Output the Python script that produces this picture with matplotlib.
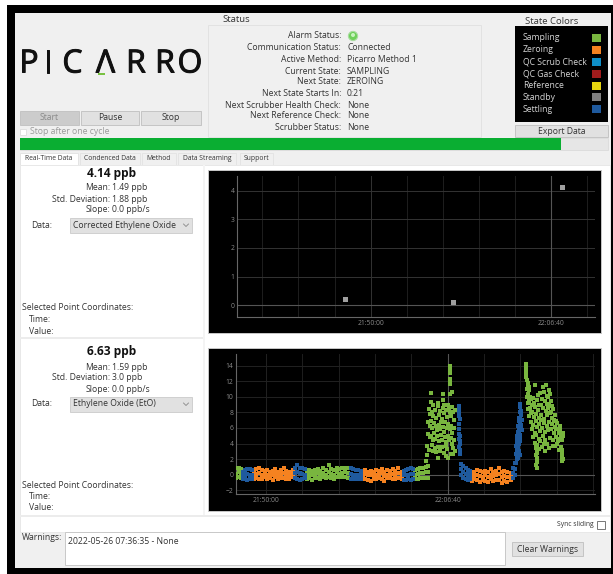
import numpy as np
import matplotlib
matplotlib.use('Agg')
import matplotlib.pyplot as plt
import matplotlib.patheffects as pe
from matplotlib.patches import Rectangle, Circle

plt.rcParams['font.family'] = ['Open Sans', 'DejaVu Sans']

W, H = 613, 574

# --- chart data, time in seconds after 21:50:00 ---
x_ticks = [0, 1000]
x_tick_labels = ['21:50:00', '22:06:40']
x_minor = [-600, -400, -200, 200, 400, 600, 800, 1200, 1400, 1600, 1800]

# top chart: corrected EtO, standby points
top_t = [-142, 458, 1060]
top_v = [0.22, 0.12, 4.14]
top_yticks = [0, 1, 2, 3, 4]

# bottom chart: EtO, flat part, three readings per time
zero_t = [-68, -53, -38, -23, -8, 7, 22, 37, 52, 67, 82, 97, 112, 127, 148,
          532, 547, 562, 577, 592, 607, 622, 637, 652, 667, 682, 697, 712, 727, 750,
          1132, 1147, 1162, 1177, 1192, 1207, 1222, 1237, 1252, 1267, 1282, 1297, 1312, 1327, 1346]
zero_v = [0.5, 0.0, -0.5, 0.7, 0.1, -0.4, 0.9, 0.2, -0.6, 0.6, -0.1, -0.5, 0.5, 0.1, -0.3,
          0.6, 0.0, -0.6, 0.4, -0.1, -0.4, 0.5, 0.0, -0.7, 0.7, 0.2, -0.3, 0.4, -0.1, -0.5,
          0.6, 0.1, -0.4, 0.8, 0.2, -0.4, 0.5, -0.1, -0.6, 0.4, 0.0, -0.5, 0.6, 0.1, -0.3,
          0.5, -0.1, -0.6, 0.6, 0.1, -0.5, 0.4, 0.0, -0.7, 0.5, -0.1, -0.8, 0.4, -0.2, -0.6,
          0.6, 0.0, -0.6, 0.5, 0.1, -0.4, 0.7, 0.2, -0.5, 0.4, -0.2, -0.8, 0.6, 0.0, -0.4,
          0.5, 0.0, -0.4, 0.7, 0.1, -0.6, 0.5, -0.1, -0.5, 0.8, 0.2, -0.4, 0.4, -0.1, -0.5,
          0.2, -0.3, -0.8, 0.4, -0.1, -0.6, 0.6, 0.0, -0.7, 0.5, -0.2, -0.9, 0.3, -0.3, -0.7,
          0.5, -0.1, -0.8, 0.4, -0.3, -0.9, 0.7, 0.0, -0.6, 0.3, -0.2, -0.8, 0.5, -0.1, -0.7,
          0.8, 0.1, -0.7, 0.3, -0.3, -1.0, 0.5, -0.2, -0.8, 0.3, -0.3, -0.9, 0.2, -0.2, -0.7]

sample_t = [-165, -150, -138,
            224, 239, 254, 269, 284, 299, 314, 329, 344, 359, 374, 389, 404, 419, 434, 452,
            819, 834, 849, 864, 879, 893]
sample_v = [0.8, 0.1, -0.4, 0.9, 0.3, -0.3, 0.7, 0.0, -0.4,
            0.5, 0.0, -0.5, 0.6, 0.1, -0.4, 0.5, -0.1, -0.7, 0.6, 0.1, -0.4, 0.7, 0.2, -0.4,
            0.5, -0.1, -0.5, 0.8, 0.2, -0.3, 0.6, 0.0, -0.4, 1.2, 0.3, -0.3, 0.7, 0.1, -0.4,
            0.6, 0.0, -0.5, 0.9, 0.3, -0.3, 0.7, 0.1, -0.3, 0.8, 0.2, -0.3, 0.9, 0.3, -0.3,
            0.8, 0.2, -0.4,
            0.6, 0.0, -0.5, 0.7, 0.1, -0.5, 0.8, 0.2, -0.4, 0.9, 0.2, -0.4, 1.0, 0.3, -0.4, 1.1, 0.4, -0.4]

settle_t = [-128, -115, -102, -89, -76,
            158, 172, 186, 200, 214,
            466, 480, 494, 508, 522,
            758, 771, 784, 797, 810,
            1072, 1085, 1098, 1111, 1124,
            1357, 1368]
settle_v = [0.4, -0.2, -0.6, 0.6, 0.0, -0.6, 0.7, 0.1, -0.7, 0.7, 0.0, -0.6, 0.6, -0.1, -0.6,
            0.9, 0.2, -0.4, 1.2, 0.4, -0.5, 0.9, 0.2, -0.7, 0.8, 0.1, -0.6, 0.7, 0.0, -0.4,
            0.8, 0.1, -0.5, 0.7, 0.0, -0.6, 0.6, 0.0, -0.6, 0.6, -0.1, -0.6, 0.5, -0.1, -0.5,
            0.5, -0.1, -0.7, 0.6, 0.0, -0.7, 0.7, 0.0, -0.6, 0.8, 0.1, -0.7, 0.7, 0.1, -0.5,
            1.4, 0.7, 0.0, 1.1, 0.4, -0.4, 0.8, 0.1, -0.6, 0.6, -0.1, -0.7, 0.5, -0.1, -0.6,
            0.8, 0.2, -0.4, 1.5, 0.7, 0.0]

# bottom chart: the two noisy sampling runs
run1_t = [1013, 1013, 1014, 1012, 1014, 1013, 1012, 1022, 906, 976, 906, 917, 948, 976, 980, 1003, 1022, 1040,
          898, 904, 912, 920, 930, 938, 944, 952, 960, 968, 974, 982, 990, 998, 1006, 1014, 1020, 1028, 1034,
          894, 902, 908, 916, 926, 934, 940, 950, 958, 964, 972, 978, 986, 994, 1002, 1010, 1018, 1026, 1032,
          890, 900, 910, 918, 924, 932, 942, 954, 962, 970, 984, 992, 1000, 1008, 1016, 1024, 1036,
          888, 898, 914, 928, 936, 946, 956, 966, 980, 988, 996, 1020, 1030, 1042, 884, 880, 918, 944, 990, 1004, 1030]
run1_v = [14.0, 13.5, 13.1, 12.3, 11.9, 11.6, 10.4, 10.6, 10.5, 10.3, 9.3, 9.0, 9.2, 9.6, 8.9, 8.9, 8.7, 8.3,
          8.4, 7.8, 8.1, 7.5, 8.3, 7.3, 8.8, 7.6, 8.2, 7.1, 8.5, 7.9, 8.3, 7.4, 8.6, 8.0, 7.5, 8.1, 7.0,
          6.8, 6.3, 6.9, 6.0, 6.6, 6.2, 5.7, 6.4, 5.9, 6.7, 6.1, 5.5, 6.8, 6.0, 6.5, 5.8, 6.3, 5.4, 6.0,
          5.2, 4.8, 5.0, 4.4, 5.3, 4.6, 4.9, 4.3, 5.1, 4.5, 4.8, 4.2, 5.0, 4.4, 4.7, 3.9, 4.5,
          3.7, 3.2, 3.8, 3.4, 2.9, 3.6, 3.1, 3.5, 2.8, 3.7, 3.3, 2.7, 3.4, 3.0, 2.5, 1.8, 3.0, 2.1, 2.4, 2.2, 2.6]

run1_blue_t = [1062, 1064, 1063, 1062, 1065, 1063, 1061, 1064, 1066, 1062, 1066, 1068, 1064, 1070, 1066]
run1_blue_v = [8.8, 8.4, 8.0, 7.5, 7.2, 6.5, 5.9, 5.2, 4.9, 4.6, 4.3, 3.9, 3.5, 3.2, 2.6]

run2_blue_t = [1397, 1399, 1401, 1396, 1403, 1394, 1400, 1407, 1390, 1396, 1404, 1388, 1394, 1402, 1408, 1386, 1392, 1400,
               1384, 1390, 1398, 1382, 1388, 1396, 1380, 1386, 1394, 1378, 1388, 1382, 1392, 1376, 1386, 1396, 1380, 1388, 1376, 1384]
run2_blue_v = [9.1, 8.7, 8.2, 8.0, 7.7, 7.3, 7.2, 7.0, 6.9, 6.6, 6.4, 6.2, 6.0, 5.9, 5.7, 5.5, 5.3, 5.1,
               5.0, 4.8, 4.7, 4.5, 4.4, 4.3, 4.2, 4.0, 3.9, 3.7, 3.5, 3.2, 3.0, 2.7, 2.8, 2.5, 2.3, 2.2, 1.5, 2.0]

run2_t = [1430, 1430, 1431, 1430, 1432, 1436, 1440, 1444, 1438, 1446, 1448, 1442, 1452, 1436, 1450, 1444, 1456,
          1480, 1522, 1542, 1556, 1563, 1548, 1470, 1496, 1510, 1530, 1552, 1566, 1462, 1476, 1490, 1504, 1518, 1536, 1548,
          1560, 1572, 1440, 1454, 1466, 1482, 1498, 1512, 1526, 1540, 1554, 1568, 1580, 1590, 1448, 1460, 1474, 1488, 1502,
          1516, 1532, 1546, 1562, 1576, 1586, 1598, 1456, 1468, 1484, 1500, 1514, 1528, 1544, 1558, 1574, 1588, 1600, 1616,
          1464, 1478, 1492, 1508, 1520, 1534, 1550, 1570, 1584, 1596, 1610, 1622, 1472, 1486, 1504, 1524, 1538, 1564, 1578,
          1594, 1606, 1618, 1630, 1480, 1494, 1510, 1528, 1546, 1582, 1602, 1626, 1500, 1518, 1536, 1560, 1592, 1612, 1628,
          1630, 1628, 1630, 1632, 1630, 1628, 1488, 1492, 1490, 1488, 1492, 1490, 1494, 1488, 1490, 1486, 1634, 1620, 1636]
run2_v = [14.2, 13.8, 13.4, 13.1, 12.5, 12.2, 11.8, 11.4, 11.0, 10.8, 11.3, 10.4, 10.0, 9.9, 9.5, 9.2, 9.7,
          11.5, 11.3, 11.5, 10.8, 10.4, 10.1, 9.8, 10.2, 10.5, 10.6, 9.9, 9.5, 8.9, 9.2, 9.6, 9.0, 9.7, 9.4, 9.1,
          9.0, 8.8, 8.4, 8.6, 8.1, 8.7, 8.3, 8.9, 8.5, 8.2, 8.6, 8.0, 8.4, 7.6, 7.5, 7.9, 7.4, 7.8, 7.3,
          7.7, 7.2, 7.6, 7.9, 7.3, 7.0, 6.9, 6.8, 6.4, 6.9, 6.5, 7.0, 6.6, 6.3, 6.8, 6.5, 6.1, 6.6, 5.7,
          5.8, 5.4, 6.1, 5.6, 6.0, 5.5, 5.7, 5.9, 5.4, 5.8, 5.3, 5.0, 4.8, 5.1, 4.6, 4.9, 4.5, 4.7, 4.4,
          4.8, 4.3, 4.6, 4.4, 4.1, 3.8, 4.3, 4.0, 3.9, 3.7, 3.9, 3.6, 3.3, 3.5, 3.1, 3.4, 3.7, 3.2, 3.2,
          2.9, 2.6, 2.3, 2.0, 1.7, 3.0, 3.4, 3.1, 2.8, 2.5, 2.2, 1.9, 1.6, 1.3, 0.9, 3.6, 5.4, 6.3, 4.9]

bottom_yticks = [-2, 0, 2, 4, 6, 8, 10, 12, 14]

# --- interface texts ---
status_labels = ['Alarm Status:', 'Communication Status:', 'Active Method:', 'Current State:', 'Next State:',
                 'Next State Starts In:', 'Next Scrubber Health Check:', 'Next Reference Check:', 'Scrubber Status:']
status_values = ['', 'Connected', 'Picarro Method 1', 'SAMPLING', 'ZEROING', '0:21', 'None', 'None', 'None']
status_y = [36, 48, 59.5, 71, 82, 93.5, 105, 116, 127]

state_names = ['Sampling', 'Zeroing', 'QC Scrub Check', 'QC Gas Check', 'Reference', 'Standby', 'Settling']
state_colors = ['#79b63f', '#f58220', '#0f8fc8', '#a01c1c', '#e6d50f', '#808080', '#1f5a9e']
state_y = [38, 50, 62, 74, 86, 97, 109]

tab_names = ['Real-Time Data', 'Condenced Data', 'Method', 'Data Streaming', 'Support']
tab_x = [(20, 78), (80, 140), (142, 176), (178, 236), (240, 273)]

fig = plt.figure(figsize=(W / 100, H / 100), dpi=100, facecolor='white')
ui = fig.add_axes([0, 0, 1, 1])
ui.set_xlim(0, W)
ui.set_ylim(H, 0)
ui.axis('off')


def box(x0, y0, x1, y1, fc, ec='none', lw=0.7, z=1):
    ui.add_patch(Rectangle((x0, y0), x1 - x0, y1 - y0, fc=fc, ec=ec, lw=lw, zorder=z))


def label(x, y, s, ha='left', size=6.2, color='#333333', weight='normal'):
    ui.text(x, y, s, ha=ha, va='center', fontsize=size, color=color, fontweight=weight, zorder=5)


def button(x0, y0, x1, y1, s, fc='#e1e1e1', color='#333333', size=6.2):
    box(x0, y0, x1, y1, fc, '#c4c4c4', z=2)
    label((x0 + x1) / 2, (y0 + y1) / 2, s, ha='center', color=color, size=size)


# window and black frame
box(7, 5, 613, 574, 'black')
box(15, 13, 611, 568, '#f0f0f0', z=1)

# logo
logo_letters = ['P', 'I', 'C', '\u039b', 'R', 'R', 'O']
logo_x = [29, 48, 72.5, 105.5, 136, 165, 190]
for lx, ch in zip(logo_x, logo_letters):
    t = ui.text(lx, 64, ch, ha='center', va='center', fontsize=23, color='#111111', zorder=5)
    t.set_path_effects([pe.withStroke(linewidth=0.7, foreground='#111111')])
box(98, 73, 105, 75, '#79c142', z=6)

button(20, 111, 79, 125, 'Start', fc='#cccccc', color='#8a8a8a')
button(81, 111, 139, 125, 'Pause')
button(141, 111, 201, 125, 'Stop')
box(20, 129, 26, 135, 'white', '#e0e0e0', z=2)
label(30, 132, 'Stop after one cycle', color='#9a9a9a')

# status group
label(222, 20, 'Status', size=6.8)
box(208, 25, 481, 137, '#f0f0f0', '#e2e2e2', z=2)
for y, s, v in zip(status_y, status_labels, status_values):
    label(341, y, s, ha='right')
    label(347, y, v)
ui.add_patch(Circle((353, 36), 4.6, fc='#6fd05a', ec='#a9dca0', lw=0.8, zorder=5))
ui.add_patch(Circle((353, 35), 2, fc='#c8f2bf', ec='none', zorder=6))

# state colours
label(552, 21, 'State Colors', ha='center', size=6.8)
box(515, 26, 608, 122, 'black', z=2)
for y, s, c in zip(state_y, state_names, state_colors):
    label(523, y, s, color='#d5d5d5')
    box(592, y - 4, 601, y + 4, c, z=4)
button(515, 125, 608, 137, 'Export Data')

# progress bar
box(20, 138, 608, 150, '#e6e6e6', '#dddddd', z=2)
box(20, 138, 561, 150, '#0aae32', z=3)

# tabs
for (x0, x1), s in zip(tab_x, tab_names):
    active = s == tab_names[0]
    box(x0, 153, x1, 165, 'white' if active else '#f0f0f0', '#e4e4e4', z=2)
    label((x0 + x1) / 2, 159, s, ha='center', size=4.9)

# content area
box(20, 165, 610, 532, 'white', '#e8e8e8', z=2)
box(20, 337, 203, 339, '#ececec', z=3)
box(20, 515, 610, 517, '#ececec', z=3)
box(203, 165, 205, 515, '#f4f4f4', z=3)

left_rows = [(173, '4.14 ppb', '1.49 ppb', '1.88 ppb', '0.0 ppb/s', 'Corrected Ethylene Oxide', 308),
             (352, '6.63 ppb', '1.59 ppb', '3.0 ppb', '0.0 ppb/s', 'Ethylene Oxide (EtO)', 485)]
for y, big, mean, sd, slope, combo, sel in left_rows:
    label(112, y, big, ha='center', size=8.6, color='#111111', weight='bold')
    label(110, y + 15, 'Mean:', ha='right')
    label(110, y + 26, 'Std. Deviation:', ha='right')
    label(110, y + 37, 'Slope:', ha='right')
    label(112, y + 15, mean)
    label(112, y + 26, sd)
    label(112, y + 37, slope)
    label(31, y + 52, 'Data:')
    box(70, y + 45, 192, y + 60, '#e1e1e1', '#d0d0d0', z=3)
    label(73, y + 52, combo)
    ui.plot([183.5, 186, 188.5], [y + 51, y + 53.5, y + 51], color='#888888', lw=0.6, zorder=5)
    label(22, sel, 'Selected Point Coordinates:')
    label(29, sel + 11.5, 'Time:')
    label(29, sel + 23, 'Value:')

# bottom row
label(594, 525, 'Sync sliding', ha='right', size=4.9)
box(597, 521, 605, 529, 'white', '#777777', z=3)
label(22, 537, 'Warnings:')
box(65, 532, 505, 565, 'white', '#c8c8c8', z=3)
label(68, 541, '2022-05-26 07:36:35 - None')
button(512, 542, 583, 556, 'Clear Warnings')


def chart(px0, py0, px1, py1, xlim, ylim, yticks, grid_c):
    ax = fig.add_axes([px0 / W, 1 - py1 / H, (px1 - px0) / W, (py1 - py0) / H], facecolor='black')
    ax.set_yticks(yticks)
    ax.set_xticks(x_ticks)
    ax.set_xticklabels(x_tick_labels)
    ax.set_xticks(x_minor, minor=True)
    # limits after the ticks, otherwise the minor ticks widen them
    ax.set_xlim(*xlim)
    ax.set_ylim(*ylim)
    ax.tick_params(which='both', length=0, labelsize=4.9, colors='#8c8c8c', pad=2)
    ax.grid(axis='y', color=grid_c, lw=0.7)
    ax.grid(axis='x', which='minor', color='#1e1e1e', lw=0.7)
    ax.grid(axis='x', which='major', color=grid_c, lw=0.7)
    ax.set_axisbelow(True)
    for s in ['top', 'right']:
        ax.spines[s].set_visible(False)
    for s in ['left', 'bottom']:
        ax.spines[s].set_color('#666666')
        ax.spines[s].set_linewidth(0.8)
    ax.axhline(0, color='#555555', lw=0.8, zorder=1)
    ax.axvline(1000, color='#555555', lw=0.8, zorder=1)
    return ax


def dots(ax, t, v, c, ms=2.4):
    ax.plot(t, v, ls='none', marker='s', ms=ms, mew=0, color=c, zorder=3)


# black panels, the axes sit inside them
box(208, 170, 601, 333, 'black', '#c8c8c8', z=3)
box(208, 348, 601, 511, 'black', '#c8c8c8', z=3)

top = chart(237, 176, 595, 317, ((237 - 370.7) / 0.1806, (595 - 370.7) / 0.1806),
            ((305.3 - 317) / 28.65, (305.3 - 176) / 28.65), top_yticks, '#333333')
top.plot(top_t, top_v, ls='none', marker='s', ms=3.6, mew=0, color='#a0a0a0', zorder=3)

bot = chart(236, 354, 595, 494, ((236 - 266) / 0.1817, (595 - 266) / 0.1817),
            ((474.7 - 494) / 7.8, (474.7 - 354) / 7.8), bottom_yticks, '#222222')
dots(bot, np.repeat(zero_t, 3), zero_v, state_colors[1], ms=3)
dots(bot, np.repeat(sample_t, 3), sample_v, state_colors[0], ms=3)
dots(bot, np.repeat(settle_t, 3), settle_v, state_colors[6], ms=3)
dots(bot, run1_t, run1_v, state_colors[0])
dots(bot, run1_blue_t, run1_blue_v, state_colors[6])
dots(bot, run2_t, run2_v, state_colors[0])
dots(bot, run2_blue_t, run2_blue_v, state_colors[6])

fig.savefig('out.png', dpi=100)
